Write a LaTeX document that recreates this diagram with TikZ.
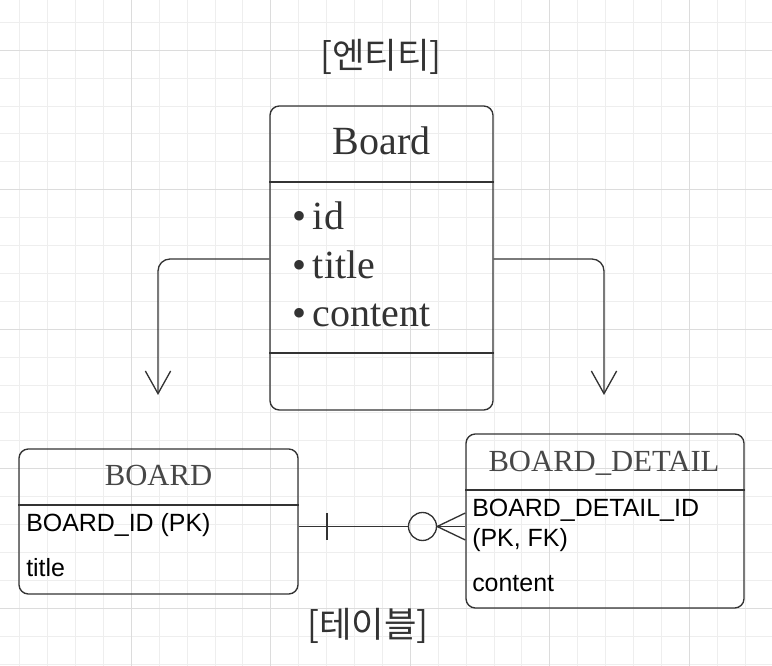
\documentclass[tikz,border=0pt]{standalone}
\usepackage{fontspec}
\setmainfont{Liberation Serif}
\newfontfamily\colfont{Liberation Sans}
\newfontfamily\kofont{Noto Sans CJK KR}
\usetikzlibrary{positioning,arrows.meta,fit,calc}
\definecolor{ink}{HTML}{333333}
\definecolor{gridlo}{HTML}{EEEEEE}
\definecolor{gridhi}{HTML}{DCDCDC}

\begin{document}
\begin{tikzpicture}[
  x=0.75pt, y=-0.75pt,
  box/.style={draw=ink, line width=1pt, rounded corners=7pt, inner sep=0pt},
  rule/.style={draw=ink, line width=1pt},
  ehead/.style={font=\fontsize{30}{30}\selectfont, text=ink, anchor=base, inner sep=0pt},
  item/.style={font=\fontsize{30}{30}\selectfont, text=ink, anchor=base west, inner sep=0pt},
  thead/.style={font=\fontsize{23}{23}\selectfont, text=ink!90, anchor=base, inner sep=0pt},
  col/.style={font=\colfont\fontsize{18.7}{18.7}\selectfont, anchor=base west, inner sep=0pt},
  flow/.style={draw=ink, line width=1pt, rounded corners=9pt,
               -{Straight Barb[length=17pt, width=19pt]}},
  rel/.style={draw=ink, line width=1pt},
  caption/.style={font=\kofont\fontsize{26.5}{26.5}\selectfont, text=ink}
]
\useasboundingbox[fill=white] (0,0) rectangle (772,666);
% grid
\foreach \k in {0,...,26} {
  \pgfmathsetmacro\gx{19.7+27.9*\k}
  \draw[gridlo, line width=0.75pt] (\gx,0) -- (\gx,666);
}
\foreach \k in {0,...,23} {
  \pgfmathsetmacro\gy{22.4+27.9*\k}
  \draw[gridlo, line width=0.75pt] (0,\gy) -- (772,\gy);
}
\foreach \k in {4,9,...,24} {
  \pgfmathsetmacro\gx{19.7+27.9*\k}
  \draw[gridhi, line width=0.75pt] (\gx,0) -- (\gx,666);
}
\foreach \k in {1,6,...,21} {
  \pgfmathsetmacro\gy{22.4+27.9*\k}
  \draw[gridhi, line width=0.75pt] (0,\gy) -- (772,\gy);
}
% entity
\node[caption] (enttitle) at (381,57) {[엔티티]};
\node[box, fit={(270,106) (493,410)}] (board) {};
\draw[rule] (board.west |- 0,182) -- (board.east |- 0,182);
\draw[rule] (board.west |- 0,353) -- (board.east |- 0,353);
\node[ehead] (boardname) at (381.5,155) {Board};
\node[item] (fid) at (292,230) {•\,id};
\node[item] (ftitle) at (292,278.5) {•\,title};
\node[item] (fcontent) at (292,327) {•\,content};
% tables
\node[box, fit={(19,449) (298,594)}] (boardtab) {};
\draw[rule] (boardtab.west |- 0,505) -- (boardtab.east |- 0,505);
\node[thead] (boardtabname) at (158.5,485.5) {BOARD};
\node[col] (bid) at (26,532) {BOARD\_ID (PK)};
\node[col] (btitle) at (26,576.5) {title};
\node[box, fit={(466,434) (744,608)}] (detailtab) {};
\draw[rule] (detailtab.west |- 0,490) -- (detailtab.east |- 0,490);
\node[thead] (detailtabname) at (604,471.5) {BOARD\_DETAIL};
\node[col] (did) at (472,516.5) {BOARD\_DETAIL\_ID};
\node[col] (dkey) at (472,546.5) {(PK, FK)};
\node[col] (dcontent) at (472,591.5) {content};
\node[caption] (tabtitle) at (368,626) {[테이블]};
% entity -> tables
\coordinate (lefttip) at (158,395);
\coordinate (righttip) at (604,395);
\draw[flow] (board.west |- 0,259) -| (lefttip);
\draw[flow] (board.east |- 0,259) -| (righttip);
% one to zero-or-many
\node[circle, draw=ink, line width=1pt, minimum size=21pt, inner sep=0pt] (zero) at (422.5,526.5) {};
\draw[rel] (boardtab.east |- 0,526.5) -- (zero.west);
\draw[rel] (327,513) -- (327,540);
\draw[rel] (zero.east) -- (detailtab.west |- 0,513);
\draw[rel] (zero.east) -- (detailtab.west |- 0,526.5);
\draw[rel] (zero.east) -- (detailtab.west |- 0,540);
\end{tikzpicture}
\end{document}
